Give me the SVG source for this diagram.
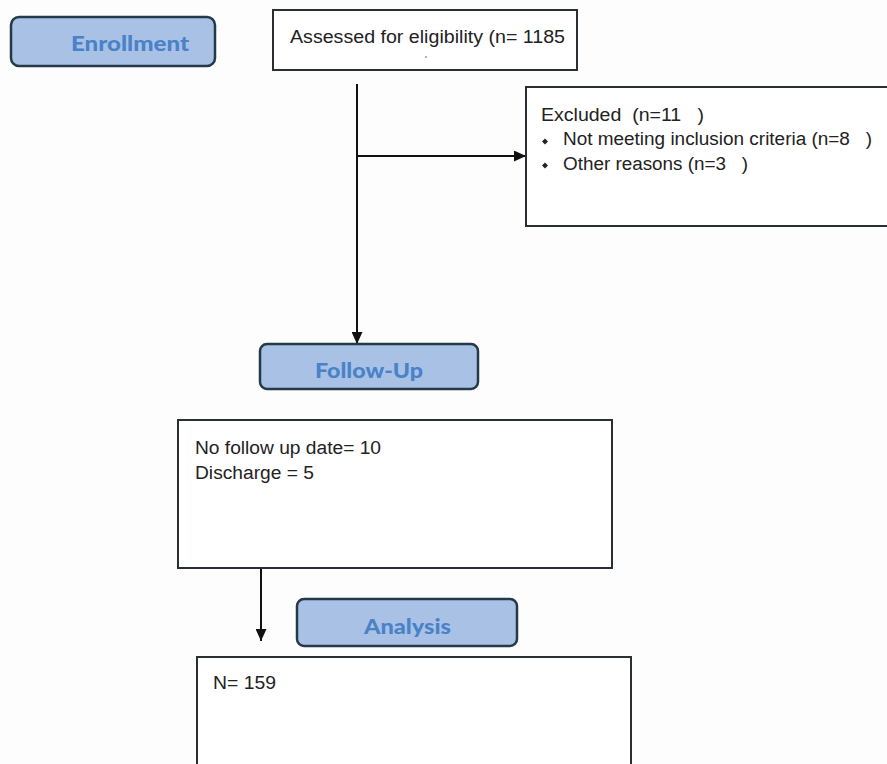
<svg xmlns="http://www.w3.org/2000/svg" width="887" height="764" viewBox="0 0 887 764">
<defs>
<style>
.hdr{fill:#a9c1e5;stroke:#24394a;stroke-width:2.5}
.hdrt{font-family:Lato,"Open Sans",sans-serif;font-weight:900;font-size:20px;fill:#4a82c8}
.box{fill:#fff;stroke:#2a2f33;stroke-width:2}
.t{font-family:"Liberation Sans",Arial,sans-serif;font-size:18px;fill:#222}
.ln{stroke:#111;stroke-width:2;fill:none}
.bul{fill:#222}
</style>
<marker id="ah" viewBox="0 0 12 11" refX="12" refY="5.5" markerWidth="12" markerHeight="11" orient="auto" markerUnits="userSpaceOnUse"><path d="M0,0L12,5.5L0,11Z" fill="#111"/></marker>
</defs>
<rect width="887" height="764" fill="#fdfdfe"/>
<g id="connectors">
<line class="ln" x1="357" y1="84" x2="357" y2="344" marker-end="url(#ah)"/>
<line class="ln" x1="357" y1="156" x2="526" y2="156" marker-end="url(#ah)"/>
<line class="ln" x1="261" y1="569" x2="261" y2="641" marker-end="url(#ah)"/>
</g>
<g id="enrollment">
<rect class="hdr" x="11" y="17" width="204" height="49" rx="8"/>
<text class="hdrt" x="71" y="51" textLength="118" lengthAdjust="spacingAndGlyphs">Enrollment</text>
</g>
<g id="assessed">
<rect class="box" x="273" y="10" width="304" height="60"/>
<text class="t" x="290" y="43" textLength="275" lengthAdjust="spacingAndGlyphs">Assessed for eligibility (n= 1185</text>
<circle cx="426" cy="57" r="0.8" fill="#555"/>
</g>
<g id="excluded">
<rect class="box" x="526" y="87" width="370" height="139"/>
<text class="t" x="541" y="121" xml:space="preserve" textLength="163" lengthAdjust="spacingAndGlyphs">Excluded  (n=11   )</text>
<path class="bul" d="M545,138.5L548,141.5L545,144.5L542,141.5Z"/>
<text class="t" x="563" y="145" xml:space="preserve" textLength="309" lengthAdjust="spacingAndGlyphs">Not meeting inclusion criteria (n=8   )</text>
<path class="bul" d="M545,162.5L548,165.5L545,168.5L542,165.5Z"/>
<text class="t" x="563" y="170" xml:space="preserve" textLength="185" lengthAdjust="spacingAndGlyphs">Other reasons (n=3   )</text>
</g>
<g id="followup">
<rect class="hdr" x="260" y="344" width="218" height="45" rx="7"/>
<text class="hdrt" x="315" y="378" textLength="108" lengthAdjust="spacingAndGlyphs">Follow-Up</text>
</g>
<g id="followup-detail">
<rect class="box" x="178" y="420" width="434" height="148"/>
<text class="t" x="195" y="454" textLength="186" lengthAdjust="spacingAndGlyphs">No follow up date= 10</text>
<text class="t" x="195" y="479" textLength="119" lengthAdjust="spacingAndGlyphs">Discharge = 5</text>
</g>
<g id="analysis">
<rect class="hdr" x="297" y="599" width="220" height="47" rx="7"/>
<text class="hdrt" x="364" y="634" textLength="87" lengthAdjust="spacingAndGlyphs">Analysis</text>
</g>
<g id="n159">
<rect class="box" x="197" y="657" width="434" height="120"/>
<text class="t" x="213" y="689" textLength="63" lengthAdjust="spacingAndGlyphs">N= 159</text>
</g>
</svg>
